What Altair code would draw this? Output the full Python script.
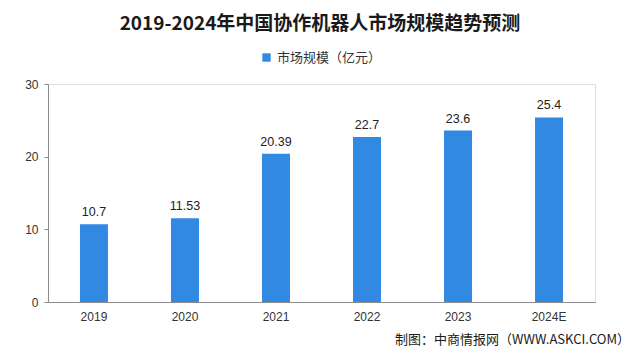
import altair as alt
import pandas as pd

years = ["2019", "2020", "2021", "2022", "2023", "2024E"]
values = [10.7, 11.53, 20.39, 22.7, 23.6, 25.4]
labels = ["10.7", "11.53", "20.39", "22.7", "23.6", "25.4"]
series_name = "市场规模（亿元）"
title_text = "2019-2024年中国协作机器人市场规模趋势预测"
source_text = "制图：中商情报网（WWW.ASKCI.COM）"
y_ticks = [0, 10, 20, 30]

BAR_COLOR = "#3189e2"
W, H = 547, 218

df = pd.DataFrame({"year": years, "value": values, "label": labels,
                   "series": [series_name] * len(years)})

x = alt.X("year:N", sort=years,
          scale=alt.Scale(paddingInner=0.69, paddingOuter=0.35),
          axis=alt.Axis(title=None, labelAngle=0, ticks=False, domainColor="#8c8c8c",
                        labelColor="#333333", labelFontSize=12, labelPadding=9,
                        labelFont="Liberation Sans"))
y = alt.Y("value:Q", scale=alt.Scale(domain=[0, 30], nice=False),
          axis=alt.Axis(title=None, values=y_ticks, grid=False, domainColor="#8c8c8c",
                        tickColor="#8c8c8c", tickSize=4, labelPadding=6,
                        labelColor="#333333", labelFontSize=12, labelFont="Liberation Sans"))

base = alt.Chart(df)

bars = base.mark_bar(size=28).encode(
    x=x, y=y,
    color=alt.Color("series:N", scale=alt.Scale(range=[BAR_COLOR]),
                    legend=alt.Legend(title=None, orient="none", legendX=212, legendY=-33,
                                      symbolType="square", symbolSize=70, symbolStrokeWidth=0,
                                      labelFontSize=13, labelColor="#333333",
                                      labelFont="Noto Sans CJK SC", padding=0, labelOffset=4)),
)

texts = base.mark_text(dy=-12, fontSize=12.5, color="#222222", font="Liberation Sans").encode(
    x=alt.X("year:N", sort=years), y="value:Q", text="label:N")

title_df = pd.DataFrame({"t": [title_text]})
title = alt.Chart(title_df).mark_text(fontSize=19, fontWeight="bold", color="#1a1a1a",
                                      font="Noto Sans CJK SC", align="center",
                                      baseline="middle").encode(
    x=alt.value(272), y=alt.value(-60), text="t:N")

src_df = pd.DataFrame({"t": [source_text]})
source = alt.Chart(src_df).mark_text(fontSize=13, color="#1a1a1a",
                                     font="Noto Sans CJK SC", align="right",
                                     baseline="middle").encode(
    x=alt.value(582), y=alt.value(256), text="t:N")

chart = alt.layer(bars, texts, title, source).properties(
    width=W, height=H,
    autosize=alt.AutoSizeParams(type="none"),
    padding={"left": 40, "top": 76, "right": 37, "bottom": 50},
).configure_view(stroke=None).configure(background="white")

chart.save("out.html", embed_options={"renderer": "svg", "actions": False})
